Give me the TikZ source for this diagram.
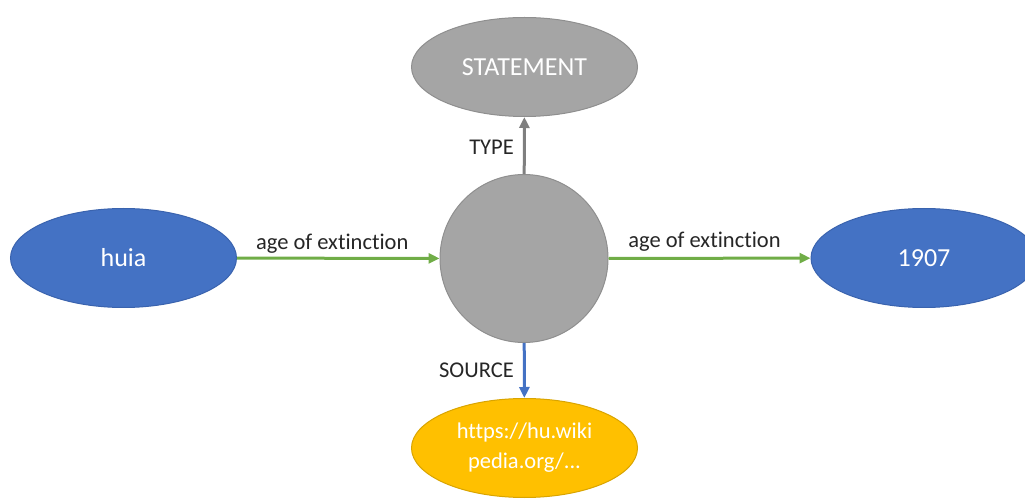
\documentclass[tikz,border=0pt]{standalone}
\usepackage{fontspec}
\setmainfont[Ligatures=NoCommon]{Carlito}
\usetikzlibrary{shapes.geometric,arrows.meta}

\definecolor{stmtgray}{HTML}{A5A5A5}
\definecolor{stmtedge}{HTML}{8F8F8F}
\definecolor{entblue}{HTML}{4472C4}
\definecolor{entedge}{HTML}{3A63AE}
\definecolor{srcgold}{HTML}{FFC000}
\definecolor{srcedge}{HTML}{D9A400}
\definecolor{propgreen}{HTML}{70AD47}
\definecolor{typegray}{HTML}{7F7F7F}
\definecolor{labeltext}{HTML}{262626}

\tikzset{
  oval/.style={ellipse, minimum width=226pt, minimum height=99pt, inner sep=0pt,
    line width=1pt, text=white, font=\fontsize{26}{30}\selectfont},
  entity/.style={oval, fill=entblue, draw=entedge},
  stmtoval/.style={oval, fill=stmtgray, draw=stmtedge},
  srcoval/.style={oval, fill=srcgold, draw=srcedge, align=center,
    font=\fontsize{22.5}{30}\selectfont},
  hub/.style={circle, minimum size=168pt, inner sep=0pt, fill=stmtgray,
    draw=stmtedge, line width=1pt},
  link/.style={line width=3pt, -{Triangle[length=11pt,width=10pt]}},
  lbl/.style={text=labeltext, font=\fontsize{22.5}{26}\selectfont, inner sep=0pt}
}

\begin{document}
\begin{tikzpicture}[x=1pt,y=-1pt]
  \useasboundingbox (0,0) rectangle (1025,502);
  \clip (0,0) rectangle (1025,502);

  % nodes
  \node[stmtoval] (stmt) at (524.5,67) {STATEMENT};
  \node[hub] (hub) at (524,258.5) {};
  \node[entity] (huia) at (123.5,258) {huia};
  \node[entity] (year) at (924,258) {1907};
  \node[srcoval] (src) at (524.5,448) {https://hu.wiki\\pedia.org/...};

  % connectors
  \draw[link, color=propgreen] (huia) -- node[lbl, midway, yshift=15pt, xshift=-6pt] {age of extinction} (hub);
  \draw[link, color=propgreen] (hub) -- node[lbl, midway, yshift=17pt, xshift=-5pt] {age of extinction} (year);
  \draw[link, color=typegray] (hub) -- node[lbl, midway, left=9pt, yshift=-2pt] {TYPE} (stmt);
  \draw[link, color=entblue] (hub) -- node[lbl, midway, left=9pt] {SOURCE} (src);
\end{tikzpicture}
\end{document}
